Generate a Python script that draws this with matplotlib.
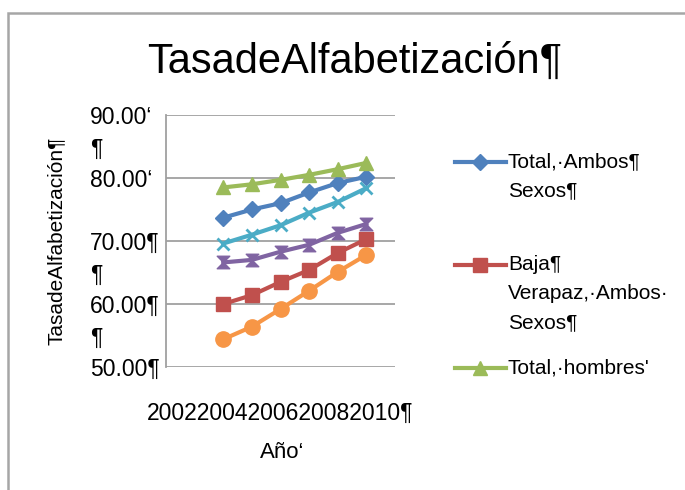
import matplotlib
matplotlib.use("Agg")
import matplotlib.pyplot as plt
from matplotlib.lines import Line2D
from matplotlib.patches import Rectangle
from matplotlib.path import Path

plt.rcParams['font.family'] = ['Liberation Sans', 'DejaVu Sans']

# data
years = [2004, 2005, 2006, 2007, 2008, 2009]
total_ambos = [73.7, 75.0, 76.0, 77.7, 79.2, 80.2]
baja_ambos = [60.0, 61.4, 63.5, 65.4, 68.1, 70.3]
total_hombres = [78.5, 79.0, 79.7, 80.5, 81.4, 82.4]
baja_hombres = [66.6, 67.0, 68.3, 69.4, 71.3, 72.7]
total_mujeres = [69.6, 71.0, 72.5, 74.5, 76.2, 78.4]
baja_mujeres = [54.4, 56.4, 59.2, 62.1, 65.1, 67.8]

series_labels = ["Total,\u00b7Ambos\u00b6\nSexos\u00b6",
                 "Baja\u00b6\nVerapaz,\u00b7Ambos\u00b7\nSexos\u00b6",
                 "Total,\u00b7hombres'",
                 "Baja Verapaz, hombres",
                 "Total, mujeres",
                 "Baja Verapaz, mujeres"]
series_values = [total_ambos, baja_ambos, total_hombres,
                 baja_hombres, total_mujeres, baja_mujeres]

x_tick_years = [2002, 2004, 2006, 2008, 2010]
y_ticks = [50, 60, 70, 80, 90]
y_tick_labels = ["50.00\u00b6", "60.00\u00b6", "70.00\u00b6", "80.00\u2018", "90.00\u2018"]
y_minor = [55, 65, 85]

# hourglass marker for the purple series
hourglass = Path([(-1, 1), (1, 1), (-1, -1), (1, -1), (-1, 1)],
                 [Path.MOVETO, Path.LINETO, Path.LINETO, Path.LINETO, Path.CLOSEPOLY])

colors = ['#4F81BD', '#C0504D', '#9BBB59', '#8064A2', '#4BACC6', '#F79646']
markers = ['D', 's', '^', hourglass, 'x', 'o']
msizes = [8, 10, 10, 9, 9, 11]

W, H = 685, 490
fig = plt.figure(figsize=(6.85, 4.9), dpi=100)

# outer border of the chart area
fig.add_artist(Rectangle((8 / W, -0.2), 1.5, (H - 13) / H + 0.2, transform=fig.transFigure,
                         fill=False, edgecolor='#a6a6a6', linewidth=1.8))

ax = fig.add_axes([166 / W, (H - 367) / H, 229 / W, 252 / H])

for vals, c, m, ms in zip(series_values, colors, markers, msizes):
    ax.plot(years, vals, color=c, marker=m, markersize=ms, linewidth=3,
            markeredgecolor=c, markeredgewidth=2 if m == 'x' else 1, clip_on=False)

ax.set_xlim(2002, 2010)
ax.set_ylim(50, 90)
ax.set_yticks(y_ticks)
ax.set_yticklabels(y_tick_labels)
ax.set_yticks(y_minor, minor=True)
ax.set_yticklabels(["\u00b6"] * len(y_minor), minor=True)
ax.yaxis.grid(True, color='#a0a0a0', linewidth=1.3)
ax.set_axisbelow(True)
for lab in ax.get_yticklabels(which='both'):
    lab.set_horizontalalignment('left')
ax.tick_params(axis='y', which='both', length=0, pad=55, labelsize=16.5)

ax.set_xticks([x_tick_years[len(x_tick_years) // 2]])
ax.set_xticklabels(["".join(str(y) for y in x_tick_years) + "\u00b6"])
ax.tick_params(axis='x', length=0, pad=25, labelsize=16.5)

for s in ['top', 'right', 'bottom']:
    ax.spines[s].set_visible(False)
ax.spines['left'].set_color('#a0a0a0')
ax.spines['left'].set_linewidth(1.3)

ax.set_ylabel("TasadeAlfabetizaci\u00f3n\u00b6", fontsize=15)
ax.yaxis.set_label_coords((66 - 166) / 229, 0.5)
ax.set_xlabel("A\u00f1o\u2018", fontsize=16)
ax.xaxis.set_label_coords((282 - 166) / 229, (367 - 442) / 252)

fig.text(355 / W, 1 - 62 / H, "TasadeAlfabetizaci\u00f3n\u00b6", fontsize=30,
         ha='center', va='center')

# legend (only the first three entries fit in the chart area)
legend_y = [162, 265, 368]
for i, ly in enumerate(legend_y):
    fig.add_artist(Line2D([455 / W, 506 / W], [1 - ly / H, 1 - ly / H],
                          transform=fig.transFigure, color=colors[i], linewidth=3))
    fig.add_artist(Line2D([480 / W], [1 - ly / H], transform=fig.transFigure,
                          color=colors[i], marker=markers[i], markersize=msizes[i],
                          markeredgecolor=colors[i]))
    fig.text(508 / W, 1 - (ly - 10) / H, series_labels[i], fontsize=15,
             ha='left', va='top', linespacing=1.67)

fig.savefig("out.png", dpi=100)
